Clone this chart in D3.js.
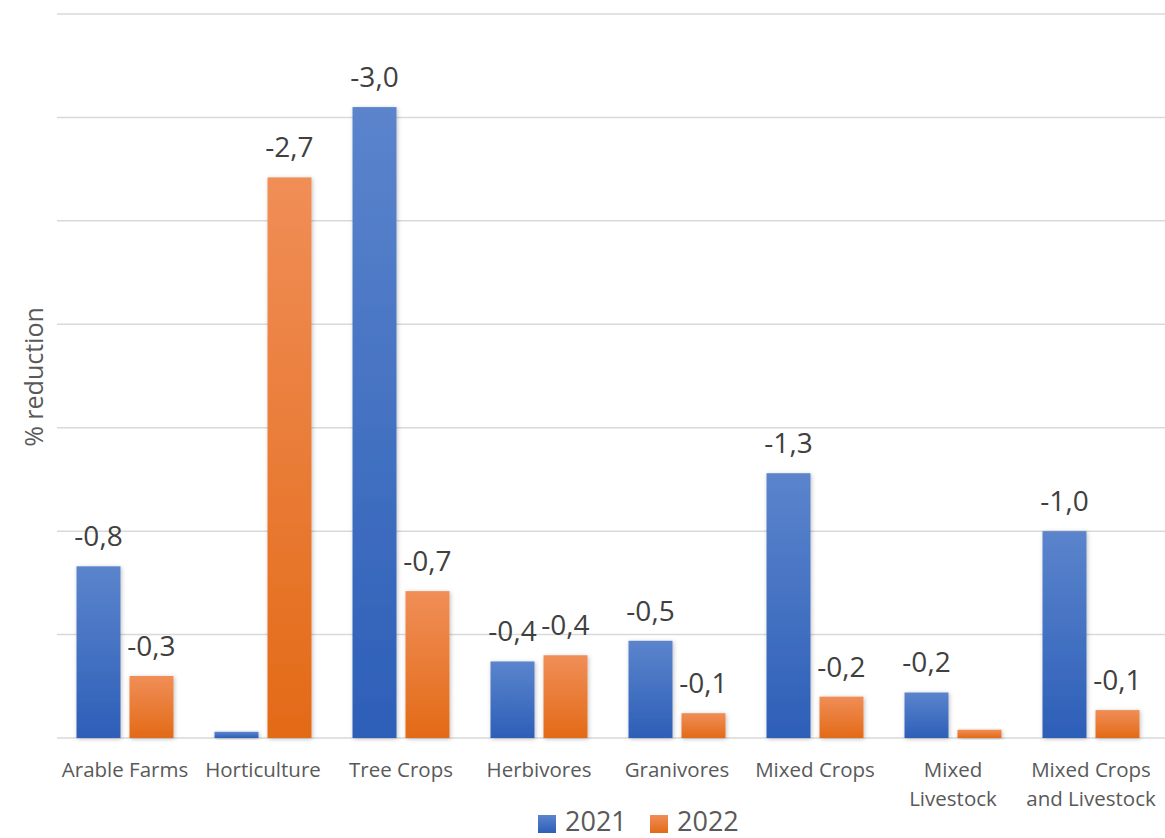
<!DOCTYPE html>
<html>
<head>
<meta charset="utf-8">
<script src="https://cdn.jsdelivr.net/npm/d3@7"></script>
<style>
  body { margin: 0; background: #fff; }
  svg { display: block; font-family: "Open Sans", sans-serif; }
</style>
</head>
<body>
<svg id="chart"></svg>
<script>
// ---- data ----
const categories = [
    ["Arable Farms"], ["Horticulture"], ["Tree Crops"], ["Herbivores"],
    ["Granivores"], ["Mixed Crops"], ["Mixed", "Livestock"],
    ["Mixed Crops", "and Livestock"]
];
const years = ["2021", "2022"];
// reduction (drawn upward)
const values2021 = [0.83, 0.03, 3.05, 0.37, 0.47, 1.28, 0.22, 1.00];
const values2022 = [0.30, 2.71, 0.71, 0.40, 0.12, 0.20, 0.04, 0.135];
const labels2021 = ["-0,8", null, "-3,0", "-0,4", "-0,5", "-1,3", "-0,2", "-1,0"];
const labels2022 = ["-0,3", "-2,7", "-0,7", "-0,4", "-0,1", "-0,2", null, "-0,1"];
const yTicks = [0, 0.5, 1, 1.5, 2, 2.5, 3, 3.5];

const width = 1165, height = 838;
const svg = d3.select("#chart").attr("width", width).attr("height", height);

// ---- gradients + shadow ----
const defs = svg.append("defs");
const grads = [
    { id: "g2021", top: "#5b84cc", bottom: "#2d5fb8" },
    { id: "g2022", top: "#f08e57", bottom: "#e36a17" }
];
grads.forEach(g => {
    const lg = defs.append("linearGradient").attr("id", g.id)
        .attr("x1", 0).attr("y1", 0).attr("x2", 0).attr("y2", 1);
    lg.append("stop").attr("offset", "0%").attr("stop-color", g.top);
    lg.append("stop").attr("offset", "100%").attr("stop-color", g.bottom);
});
defs.append("filter").attr("id", "shadow")
    .attr("x", "-20%").attr("y", "-20%").attr("width", "140%").attr("height", "140%")
    .append("feDropShadow")
    .attr("dx", 1).attr("dy", 1).attr("stdDeviation", 2)
    .attr("flood-color", "#000").attr("flood-opacity", 0.25);

// ---- scales ----
const x0 = d3.scaleBand()
    .domain(d3.range(categories.length))
    .range([56, 1160])
    .padding(0);

const x1 = d3.scaleBand()
    .domain(years)
    .range([0, x0.bandwidth()])
    .paddingInner(0.17)
    .paddingOuter(0.387);

const y = d3.scaleLinear()
    .domain([0, 3.5])
    .range([738, 14]);

// ---- gridlines ----
svg.append("g").selectAll("line")
    .data(yTicks)
    .join("line")
    .attr("x1", 57).attr("x2", width)
    .attr("y1", d => y(d)).attr("y2", d => y(d))
    .attr("stroke", "#d9d9d9")
    .attr("stroke-width", 1.5);

// ---- bars ----
const series = [
    { year: "2021", values: values2021, labels: labels2021, fill: "url(#g2021)" },
    { year: "2022", values: values2022, labels: labels2022, fill: "url(#g2022)" }
];

const barG = svg.append("g");
series.forEach(s => {
    barG.selectAll("rect.bar-" + s.year)
        .data(s.values)
        .join("rect")
        .attr("class", "bar-" + s.year)
        .attr("x", (d, i) => x0(i) + x1(s.year))
        .attr("width", x1.bandwidth())
        .attr("y", d => y(d))
        .attr("height", d => y(0) - y(d))
        .attr("fill", s.fill)
        .attr("filter", "url(#shadow)");
});

// ---- data labels ----
series.forEach(s => {
    svg.append("g").selectAll("text")
        .data(s.values.map((v, i) => ({ v, i, label: s.labels[i] })).filter(d => d.label))
        .join("text")
        .attr("x", d => x0(d.i) + x1(s.year) + x1.bandwidth() / 2)
        .attr("y", d => y(d.v) - 20)
        .attr("text-anchor", "middle")
        .attr("font-size", 28)
        .attr("fill", "#404040")
        .text(d => d.label);
});

// ---- category labels ----
const catG = svg.append("g");
categories.forEach((lines, i) => {
    const t = catG.append("text")
        .attr("text-anchor", "middle")
        .attr("font-size", 20.5)
        .attr("fill", "#595959");
    lines.forEach((ln, j) => {
        t.append("tspan")
            .attr("x", x0(i) + x0.bandwidth() / 2)
            .attr("y", 777 + j * 28.5)
            .text(ln);
    });
});

// ---- axis title ----
svg.append("text")
    .attr("transform", "translate(43,377) rotate(-90)")
    .attr("text-anchor", "middle")
    .attr("font-size", 25)
    .attr("fill", "#595959")
    .text("% reduction");

// ---- legend ----
const legend = [
    { year: "2021", fill: "url(#g2021)", x: 538 },
    { year: "2022", fill: "url(#g2022)", x: 650 }
];
const lg = svg.append("g");
legend.forEach(l => {
    lg.append("rect")
        .attr("x", l.x).attr("y", 815)
        .attr("width", 18).attr("height", 18)
        .attr("fill", l.fill);
    lg.append("text")
        .attr("x", l.x + 27).attr("y", 831)
        .attr("font-size", 27)
        .attr("fill", "#595959")
        .text(l.year);
});
</script>
</body>
</html>
